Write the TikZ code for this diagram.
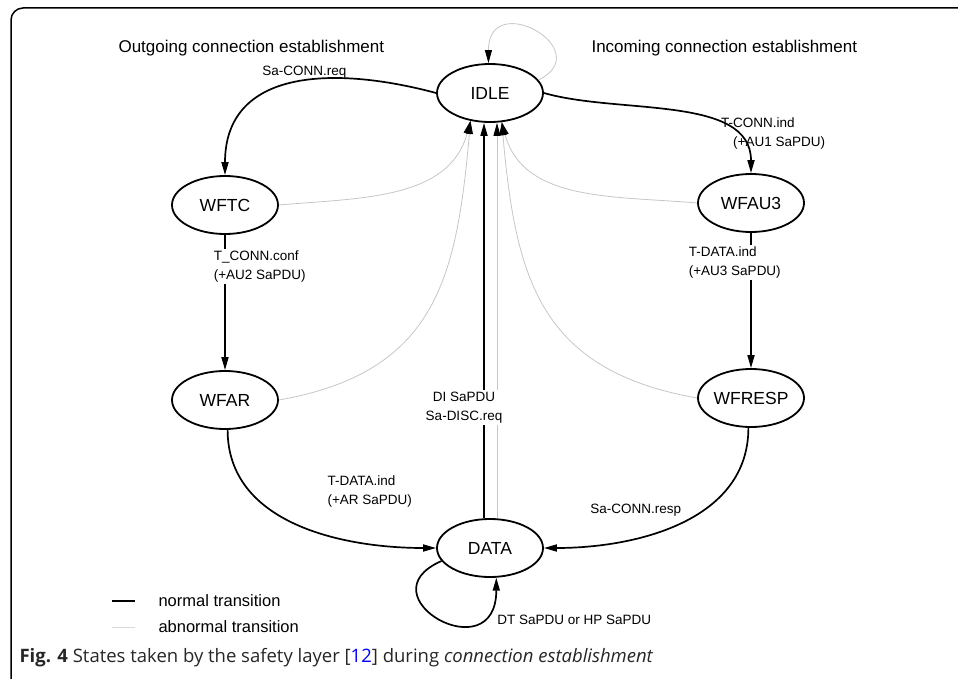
\documentclass[tikz,border=0pt]{standalone}
\usepackage{fontspec}
\setmainfont{Liberation Sans}
\newfontfamily\capfont{Open Sans}
\usetikzlibrary{shapes.geometric,arrows.meta,positioning}

\begin{document}
\begin{tikzpicture}[x=1pt,y=1pt,node distance=195pt,on grid,
    st/.style={ellipse,draw,line width=1.8pt,minimum width=106pt,minimum height=58pt,inner sep=0pt,
      font=\fontsize{17.5}{20}\selectfont},
    normal/.style={line width=1.7pt,-{Triangle[length=13pt,width=7pt]}},
    abnormal/.style={gray!45,line width=0.8pt,-{Triangle[length=13pt,width=7pt,color=black,fill=black]}},
    lbl/.style={font=\fontsize{13.5}{19}\selectfont,align=left,inner sep=2pt},
    title/.style={font=\fontsize{17}{20}\selectfont,anchor=west}]
   \useasboundingbox (0,0) rectangle (958,-679);
   \draw[line width=1.5pt,rounded corners=12pt] (11,-679) |- (958,-8);

   \node[title] (outg) at (115,-48) {Outgoing connection establishment};
   \node[title] (inc) at (588,-48) {Incoming connection establishment};

   \node[st] (idle) at (490,-93) {IDLE};
   \node[st] (wftc) at (225,-205) {WFTC};
   \node[st] (wfau3) at (751,-203) {WFAU3};
   \node[st] (wfar) [below=of wftc] {WFAR};
   \node[st] (wfresp) [below=of wfau3] {WFRESP};
   \node[st] (data) at (490,-548) {DATA};

   % abnormal transitions
   \draw[abnormal] (idle.15) .. controls +(60,30) and +(0,75) .. (idle.93);
   \path[abnormal]
    (wftc.east) edge[out=5,in=-105] (idle.235)
    (wfar.east) edge[out=10,in=-95,looseness=1.2] (idle.235)
    (wfau3.west) edge[out=175,in=-75] (idle.292)
    (wfresp.west) edge[out=170,in=-85,looseness=1.2] (idle.292)
    ([xshift=7pt]data.north) edge ([xshift=7pt]idle.south);

   % normal transitions
   \path[normal]
    (idle.west) edge[out=165,in=90,looseness=1.2] node[lbl,pos=.45,above] {Sa-CONN.req} (wftc.north)
    (idle.east) edge[out=-16,in=90,looseness=.9] node[lbl,pos=.62,anchor=north west,xshift=14pt,yshift=4pt]
        {T-CONN.ind\\\hspace*{.9em}(+AU1 SaPDU)} (wfau3.north)
    (wftc) edge node[lbl,fill=white,pos=.234,anchor=west,xshift=-14pt]
        {T\_CONN.conf\\(+AU2 SaPDU)} (wfar)
    (wfau3) edge node[lbl,fill=white,pos=.22,anchor=west,xshift=-65pt]
        {T-DATA.ind\\(+AU3 SaPDU)} (wfresp)
    (wfar.-85) edge[out=-90,in=180] node[lbl,pos=.5,anchor=south west,xshift=28pt,yshift=14pt]
        {T-DATA.ind\\(+AR SaPDU)} (data.west)
    (wfresp.-95) edge[out=-90,in=0] node[lbl,pos=.5,anchor=south east,xshift=3pt,yshift=4pt]
        {Sa-CONN.resp} (data.east)
    ([xshift=-6pt]data.north) edge node[lbl,align=center,fill=white,pos=.28,xshift=-20pt]
        {DI SaPDU\\Sa-DISC.req} ([xshift=-6pt]idle.south);
   \draw[normal] (data.195) .. controls +(-80,-35) and +(0,-95) .. (data.-78)
        node[lbl,pos=.75,anchor=west,xshift=18pt] {DT SaPDU or HP SaPDU};

   % legend
   \node[title,font=\fontsize{16.5}{20}\selectfont] (lnorm) at (155,-601) {normal transition};
   \node[title,font=\fontsize{16.5}{20}\selectfont] (labn) at (155,-627) {abnormal transition};
   \draw[line width=1.7pt] ([xshift=-43pt]lnorm.west) -- ([xshift=-20pt]lnorm.west);
   \draw[gray!30,line width=0.8pt] ([xshift=-43pt]labn.west) -- ([xshift=-20pt]labn.west);

   \node[anchor=west,font=\capfont\fontsize{18.5}{22}\selectfont,text=black!85] (cap) at (16,-658)
     {\textbf{Fig. 4} States taken by the safety layer [{\color{blue}12}] during \textit{connection establishment}};
\end{tikzpicture}
\end{document}
